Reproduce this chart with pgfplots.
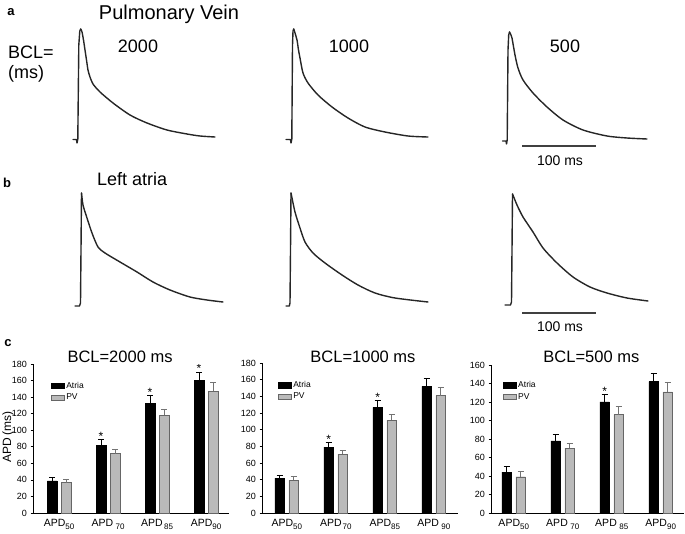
\documentclass[border=0pt]{standalone}
\usepackage{pgfplots}
\pgfplotsset{compat=1.18}
\usepackage{fontspec}
\setmainfont{Liberation Sans}
\newcommand{\fs}[1]{\fontsize{#1}{#1}\selectfont}
\newcommand{\apd}[2][0pt]{APD\hspace{#1}\raisebox{-3.5pt}{\fs{8}#2}}
\tikzset{starnode/.style={font=\fs{12}, anchor=south, xshift=-7pt, inner sep=0pt, yshift=-1pt}}
\pgfplotsset{
 trace/.style={black!85, line width=1.4pt, line cap=round, line join=round, mark=none},
 barax/.style={
  scale only axis, anchor=south west,
  ybar=4.5pt, bar width=9.5pt, ymin=0,
  axis x line=bottom, axis y line=left,
  axis line style={-, line width=0.7pt},
  xtick={1,2,3,4}, xtick style={draw=none},
  ytick style={line width=0.6pt, black}, tick align=outside, major tick length=2.5pt,
  tick label style={font=\fs{9}},
  /pgf/number format/assume math mode=true,
  xticklabel style={font=\fs{10.5}},
  title style={font=\fs{16.5}, anchor=center},
  legend style={draw=none, fill=none, font=\fs{8.5}, anchor=north west, row sep=0pt, inner sep=1pt},
  legend cell align=left,
  legend image code/.code={\draw[##1] (0pt,-2.7pt) rectangle (13pt,2.7pt);},
  error bars/y dir=plus, error bars/y explicit,
  error bars/error mark options={rotate=90, mark size=3pt, line width=0.7pt},
 },
 atria/.style={fill=black, draw=black, error bars/error bar style={black, line width=0.7pt}},
 pv/.style={fill=black!27, draw=black!60, error bars/error bar style={black!55, line width=0.7pt},
   error bars/error mark options={rotate=90, mark size=3pt, line width=0.7pt, black!55}},
}
\begin{document}
\begin{tikzpicture}
\path[use as bounding box] (0pt,0pt) rectangle (685pt,-534pt);

% ---------- action potential traces (pixel coordinates) ----------
\begin{axis}[at={(0pt,0pt)}, anchor=north west, scale only axis,
  width=685pt, height=534pt, xmin=0, xmax=685, ymin=0, ymax=534,
  y dir=reverse, hide axis, clip=false]
% a: Pulmonary vein
\addplot[trace, sharp plot] coordinates {(73,139.5) (76.5,139.5) (77,143) (77.8,139) (78.8,45) (79.8,31) (80.7,29)};
\addplot[trace, smooth, tension=0.45] coordinates {(80.7,29) (82,32) (83.5,40) (85,50) (86.5,60) (88,70) (90,77) (93,84) (100,92) (113,103) (130,115) (147,123) (167,130) (187,134) (200,136) (215,137)};
\addplot[trace, sharp plot] coordinates {(286,139.5) (290.5,139.5) (291,143) (291.8,139) (292.5,45) (293,31) (293.7,29)};
\addplot[trace, smooth, tension=0.45] coordinates {(293.7,29) (295,33) (297,40) (298.5,50) (300,58) (303,73) (308,83) (318,95) (332,107) (348,118) (365,127) (385,132) (408,136) (428,137)};
\addplot[trace, sharp plot] coordinates {(502.5,141) (506,141) (506.5,144) (507.2,140) (508,50) (508.7,35) (509.5,32)};
\addplot[trace, smooth, tension=0.45] coordinates {(509.5,32) (511,35) (512,38) (515,55) (518,68) (523,80) (533,93) (547,107) (563,120) (583,130) (607,136) (627,138) (647,139)};
\addplot[black!75, line width=1.2pt, mark=none] coordinates {(522,146) (596,146)};
% b: Left atria
\addplot[trace, sharp plot] coordinates {(75,306) (79.5,306) (80.5,303) (81,250) (81.5,193)};
\addplot[trace, smooth, tension=0.45] coordinates {(81.5,193) (83,205) (87,218) (92,233) (98,247) (105,253) (120,262) (137,272) (153,282) (170,290) (190,297) (207,300) (223,302)};
\addplot[trace, sharp plot] coordinates {(286,306) (289.3,306) (290,303) (290.5,250) (291,193)};
\addplot[trace, smooth, tension=0.45] coordinates {(291,193) (295,212) (300,228) (305,242) (313,253) (325,263) (342,275) (358,285) (375,293) (395,298) (428,302)};
\addplot[trace, sharp plot] coordinates {(505,305) (510.5,305) (511.5,302) (512,250) (512.5,194)};
\addplot[trace, smooth, tension=0.45] coordinates {(512.5,194) (517,205) (523,217) (533,232) (543,248) (557,263) (573,277) (590,287) (607,293) (627,298) (648,301)};
\addplot[black!75, line width=1.2pt, mark=none] coordinates {(522,313) (596,313)};
\end{axis}

% texts of panels a and b
\node[font=\fs{13}\bfseries, anchor=center] at (11pt,-12pt) {a};
\node[font=\fs{20}, anchor=base] at (169pt,-20pt) {Pulmonary Vein};
\node[font=\fs{18}, anchor=base west, inner sep=0pt] at (8pt,-59pt) {BCL=};
\node[font=\fs{18}, anchor=base west, inner sep=0pt] at (8pt,-79pt) {(ms)};
\node[font=\fs{18}, anchor=base] at (138pt,-53pt) {2000};
\node[font=\fs{18}, anchor=base] at (349pt,-53pt) {1000};
\node[font=\fs{18}, anchor=base] at (565pt,-53pt) {500};
\node[font=\fs{14}, anchor=base] at (560pt,-166pt) {100 ms};
\node[font=\fs{13}\bfseries, anchor=center] at (7pt,-183pt) {b};
\node[font=\fs{18}, anchor=base west, inner sep=0pt] at (97pt,-186pt) {Left atria};
\node[font=\fs{14}, anchor=base] at (560pt,-332pt) {100 ms};
\node[font=\fs{13}\bfseries, anchor=center] at (8pt,-343pt) {c};
\node[font=\fs{12}, rotate=90, anchor=center] at (8pt,-437pt) {APD (ms)};

% ---------- bar chart 1 ----------
\begin{axis}[barax, at={(33pt,-513pt)}, width=196pt, height=149pt,
  xmin=0.469, xmax=4.469, ymax=180, ytick={0,20,...,180},
  xticklabels={{\apd{50}},{\apd[2.5pt]{70}},{\apd[1.5pt]{85}},{\apd{90}}},
  title={BCL=2000 ms}, title style={at={(0.444,1)}, yshift=1pt},
  legend style={at={(0.085,0.9)}}]
\addplot[atria] coordinates {(1,38.7) +- (0,4.5) (2,81.9) +- (0,6.9) (3,132.4) +- (0,9.2) (4,160.6) +- (0,9.7)};
\addplot[pv] coordinates {(1,36.7) +- (0,3.7) (2,71.8) +- (0,5.3) (3,117.8) +- (0,7.7) (4,147.3) +- (0,10.5)};
\legend{Atria,PV}
\node[starnode] at (axis cs:2,88.8) {*};
\node[starnode] at (axis cs:3,141.6) {*};
\node[starnode] at (axis cs:4,170.3) {*};
\end{axis}

% ---------- bar chart 2 ----------
\begin{axis}[barax, at={(262pt,-513pt)}, width=196pt, height=150pt,
  xmin=0.495, xmax=4.495, ymax=180, ytick={0,20,...,180},
  xticklabels={{\apd{50}},{\apd[1pt]{70}},{\apd{85}},{\apd[2.5pt]{90}}},
  title={BCL=1000 ms}, title style={at={(0.515,1)}, yshift=0pt},
  legend style={at={(0.075,0.9)}}]
\addplot[atria] coordinates {(1,42) +- (0,3.2) (2,79.2) +- (0,5.6) (3,126.8) +- (0,8) (4,152) +- (0,9.2)};
\addplot[pv] coordinates {(1,39.2) +- (0,4.4) (2,70.8) +- (0,4.8) (3,111.2) +- (0,7.6) (4,140.8) +- (0,10)};
\legend{Atria,PV}
\node[starnode] at (axis cs:2,84.8) {*};
\node[starnode] at (axis cs:3,134.8) {*};
\end{axis}

% ---------- bar chart 3 ----------
\begin{axis}[barax, at={(491pt,-513pt)}, width=193pt, height=148pt,
  xmin=0.536, xmax=4.475, ymax=160, ytick={0,20,...,160},
  xticklabels={{\apd{50}},{\apd[2.5pt]{70}},{\apd[2.5pt]{85}},{\apd{90}}},
  title={BCL=500 ms}, title style={at={(0.52,1)}, yshift=2pt},
  legend style={at={(0.055,0.91)}}]
\addplot[atria] coordinates {(1,44.2) +- (0,5.8) (2,78) +- (0,6.9) (3,120.1) +- (0,8.3) (4,142) +- (0,9)};
\addplot[pv] coordinates {(1,39.2) +- (0,5.4) (2,70.1) +- (0,5.4) (3,106.4) +- (0,8.7) (4,130.9) +- (0,10.8)};
\legend{Atria,PV}
\node[starnode] at (axis cs:3,128.4) {*};
\end{axis}
\end{tikzpicture}
\end{document}
